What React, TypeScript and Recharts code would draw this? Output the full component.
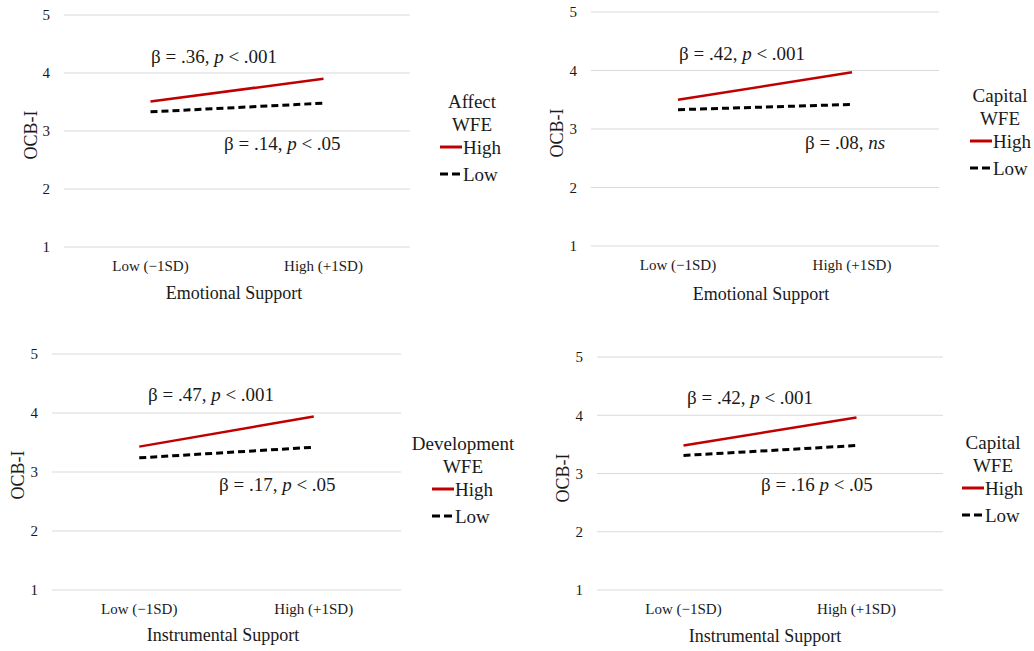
import { LineChart, Line, XAxis, YAxis, CartesianGrid, Legend } from "recharts";

const SERIF = '"Liberation Serif", "Times New Roman", serif';
const INK = "#1a1a1a";
const RED = "#c00000";

const categories = ["Low (−1SD)", "High (+1SD)"];
const yTicks = [1, 2, 3, 4, 5];

// simple slopes (Low support, High support)
const affectHigh = [3.51, 3.9];
const affectLow = [3.33, 3.48];
const capitalEmoHigh = [3.5, 3.97];
const capitalEmoLow = [3.33, 3.42];
const developmentHigh = [3.43, 3.94];
const developmentLow = [3.24, 3.42];
const capitalInstHigh = [3.48, 3.96];
const capitalInstLow = [3.31, 3.48];

const highSeries = [affectHigh, capitalEmoHigh, developmentHigh, capitalInstHigh];
const lowSeries = [affectLow, capitalEmoLow, developmentLow, capitalInstLow];

const moderators = ["Affect", "Capital", "Development", "Capital"];
const supportTitles = ["Emotional Support", "Emotional Support", "Instrumental Support", "Instrumental Support"];

// [plain, italic, plain]
const highNotes = [
  ["β = .36, ", "p", " < .001"],
  ["β = .42, ", "p", " < .001"],
  ["β = .47, ", "p", " < .001"],
  ["β = .42, ", "p", " < .001"],
];
const lowNotes = [
  ["β = .14, ", "p", " < .05"],
  ["β = .08, ", "ns", ""],
  ["β = .17, ", "p", " < .05"],
  ["β = .16 ", "p", " < .05"],
];

type Layout = {
  left: number; top: number; width: number; height: number;
  x0: number; x1: number; y0: number; y1: number;
  yTitle: [number, number]; xTitle: [number, number];
  legend: { cx: number; lineX: number; y: number };
  notes: [number, number][];
};

// page coordinates of each panel
const layouts: Layout[] = [
  { left: 0, top: 0, width: 517, height: 320, x0: 64, x1: 410, y0: 15, y1: 247,
    yTitle: [31, 135], xTitle: [234, 299], legend: { cx: 472, lineX: 440, y: 101 }, notes: [[151, 57], [224, 144]] },
  { left: 520, top: 0, width: 514, height: 320, x0: 591, x1: 939, y0: 12, y1: 246,
    yTitle: [557, 133], xTitle: [761, 300], legend: { cx: 1000, lineX: 970, y: 95 }, notes: [[679, 54], [805, 143]] },
  { left: 0, top: 330, width: 517, height: 321, x0: 52, x1: 401, y0: 354, y1: 590,
    yTitle: [18, 475], xTitle: [223, 641], legend: { cx: 463, lineX: 432, y: 443 }, notes: [[148, 395], [219, 485]] },
  { left: 520, top: 330, width: 514, height: 321, x0: 597, x1: 943, y0: 357, y1: 590,
    yTitle: [563, 478], xTitle: [765, 642], legend: { cx: 993, lineX: 962, y: 442 }, notes: [[687, 398], [761, 485]] },
];

const X_AXIS_H = 60;

function Note({ parts, x, y }: { parts: string[]; x: number; y: number }) {
  return (
    <div style={{ position: "absolute", left: x, top: y - 12, lineHeight: "24px", fontSize: 19, fontFamily: SERIF, color: INK, whiteSpace: "nowrap" }}>
      {parts[0]}<i>{parts[1]}</i>{parts[2]}
    </div>
  );
}

function Panel({ i }: { i: number }) {
  const L = layouts[i];
  const data = categories.map((level, k) => ({ level, high: highSeries[i][k], low: lowSeries[i][k] }));
  const margin = {
    top: L.y0 - L.top,
    left: 0,
    right: L.left + L.width - L.x1,
    bottom: L.top + L.height - L.y1 - X_AXIS_H,
  };
  const pad = (L.x1 - L.x0) / 4;
  const tick = { fontSize: 15, fill: INK, fontFamily: SERIF };

  return (
    <div style={{ position: "absolute", left: L.left, top: L.top, width: L.width, height: L.height }}>
      <LineChart width={L.width} height={L.height} data={data} margin={margin}>
        <CartesianGrid vertical={false} stroke="#d9d9d9" />
        <XAxis
          dataKey="level"
          axisLine={false}
          tickLine={false}
          tickSize={0}
          tickMargin={13}
          height={X_AXIS_H}
          interval={0}
          padding={{ left: pad, right: pad }}
          tick={tick}
          label={() => (
            <text x={L.xTitle[0] - L.left} y={L.xTitle[1] - L.top} textAnchor="middle" fontSize={18} fontFamily={SERIF} fill={INK}>
              {supportTitles[i]}
            </text>
          )}
        />
        <YAxis
          type="number"
          domain={[1, 5]}
          ticks={yTicks}
          width={L.x0 - L.left}
          axisLine={false}
          tickLine={false}
          tickSize={0}
          tickMargin={14}
          tick={tick}
          label={() => (
            <text
              transform={`translate(${L.yTitle[0] - L.left},${L.yTitle[1] - L.top}) rotate(-90)`}
              dy="0.33em"
              textAnchor="middle"
              fontSize={18}
              fontFamily={SERIF}
              fill={INK}
            >
              OCB-I
            </text>
          )}
        />
        <Legend
          layout="vertical"
          align="center"
          verticalAlign="middle"
          wrapperStyle={{ left: L.legend.lineX - L.left, top: L.legend.y - 11.5 - L.top, width: 70, height: "auto" }}
          content={({ payload }) => (
            <div style={{ fontFamily: SERIF, fontSize: 19, color: INK }}>
              <div style={{ width: 140, marginLeft: L.legend.cx - L.legend.lineX - 70, textAlign: "center", lineHeight: "23px" }}>
                <div>{moderators[i]}</div>
                <div>WFE</div>
              </div>
              <div style={{ marginTop: -2 }}>
                {(payload ?? []).map((entry: any) => (
                  <div key={entry.value} style={{ display: "flex", alignItems: "center", height: 27, whiteSpace: "nowrap" }}>
                    <svg width={23} height={6} style={{ flex: "none" }}>
                      <line
                        x1={0}
                        x2={22}
                        y1={3}
                        y2={3}
                        stroke={entry.color}
                        strokeWidth={3}
                        strokeDasharray={entry.dataKey === "low" ? "8 4" : undefined}
                      />
                    </svg>
                    <span style={{ lineHeight: "27px" }}>{entry.value}</span>
                  </div>
                ))}
              </div>
            </div>
          )}
        />
        <Line type="linear" dataKey="high" name="High" stroke={RED} strokeWidth={2.5} dot={false} activeDot={false} isAnimationActive={false} />
        <Line type="linear" dataKey="low" name="Low" stroke="#000" strokeWidth={3} strokeDasharray="7 4" dot={false} activeDot={false} isAnimationActive={false} />
      </LineChart>
      {L.notes.map(([x, y], k) => (
        <Note key={k} parts={k === 0 ? highNotes[i] : lowNotes[i]} x={x - L.left} y={y - L.top} />
      ))}
    </div>
  );
}

export default function App() {
  return (
    <div style={{ position: "absolute", left: 0, top: 0, width: 1034, height: 651, overflow: "hidden", background: "#fff" }}>
      {layouts.map((_, i) => (
        <Panel key={i} i={i} />
      ))}
    </div>
  );
}
